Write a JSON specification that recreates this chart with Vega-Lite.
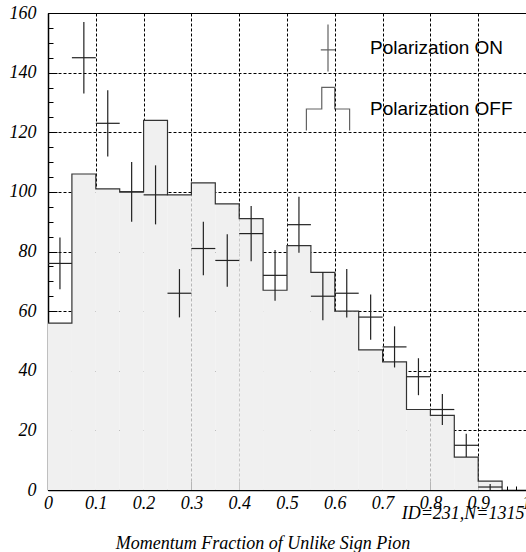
{
  "$schema": "https://vega.github.io/schema/vega-lite/v6.json",
  "width": 478,
  "height": 477,
  "autosize": {"type": "none"},
  "padding": {"left": 48, "top": 13, "right": 0, "bottom": 62},
  "background": "white",
  "config": {
    "view": {"stroke": "#000", "strokeWidth": 1},
    "axis": {
      "domainColor": "#000",
      "domainWidth": 1.5,
      "tickColor": "#000",
      "tickWidth": 1,
      "gridColor": "#000",
      "gridDash": [3, 2],
      "gridWidth": 1,
      "labelFont": "Liberation Serif",
      "labelFontStyle": "italic",
      "labelFontWeight": "normal",
      "labelFontSize": 18,
      "labelColor": "#000",
      "titleFont": "Liberation Serif",
      "titleFontStyle": "italic",
      "titleFontWeight": "normal",
      "titleFontSize": 18,
      "titleColor": "#000",
      "zindex": 1
    }
  },
  "title": {
    "text": "Momentum Fraction of Unlike Sign Pion",
    "orient": "bottom",
    "anchor": "middle",
    "frame": "group",
    "dx": -24,
    "offset": 13,
    "font": "Liberation Serif",
    "fontStyle": "italic",
    "fontWeight": "normal",
    "fontSize": 18,
    "color": "#000"
  },
  "data": {
    "values": [
      {"lo": 0.0, "hi": 0.05, "mid": 0.025, "off": 56, "on": 76, "on_lo": 67.3, "on_hi": 84.7},
      {"lo": 0.05, "hi": 0.1, "mid": 0.075, "off": 106, "on": 145, "on_lo": 133, "on_hi": 157},
      {"lo": 0.1, "hi": 0.15, "mid": 0.125, "off": 101, "on": 123, "on_lo": 111.9, "on_hi": 134.1},
      {"lo": 0.15, "hi": 0.2, "mid": 0.175, "off": 100, "on": 100, "on_lo": 90, "on_hi": 110},
      {"lo": 0.2, "hi": 0.25, "mid": 0.225, "off": 124, "on": 99, "on_lo": 89.1, "on_hi": 108.9},
      {"lo": 0.25, "hi": 0.3, "mid": 0.275, "off": 99, "on": 66, "on_lo": 57.9, "on_hi": 74.1},
      {"lo": 0.3, "hi": 0.35, "mid": 0.325, "off": 103, "on": 81, "on_lo": 72, "on_hi": 90},
      {"lo": 0.35, "hi": 0.4, "mid": 0.375, "off": 96, "on": 77, "on_lo": 68.2, "on_hi": 85.8},
      {"lo": 0.4, "hi": 0.45, "mid": 0.425, "off": 91, "on": 86, "on_lo": 76.7, "on_hi": 95.3},
      {"lo": 0.45, "hi": 0.5, "mid": 0.475, "off": 67, "on": 72, "on_lo": 63.5, "on_hi": 80.5},
      {"lo": 0.5, "hi": 0.55, "mid": 0.525, "off": 82, "on": 89, "on_lo": 79.6, "on_hi": 98.4},
      {"lo": 0.55, "hi": 0.6, "mid": 0.575, "off": 73, "on": 65, "on_lo": 56.9, "on_hi": 73.1},
      {"lo": 0.6, "hi": 0.65, "mid": 0.625, "off": 60, "on": 66, "on_lo": 57.9, "on_hi": 74.1},
      {"lo": 0.65, "hi": 0.7, "mid": 0.675, "off": 47, "on": 58, "on_lo": 50.4, "on_hi": 65.6},
      {"lo": 0.7, "hi": 0.75, "mid": 0.725, "off": 43, "on": 48, "on_lo": 41.1, "on_hi": 54.9},
      {"lo": 0.75, "hi": 0.8, "mid": 0.775, "off": 27, "on": 38, "on_lo": 31.8, "on_hi": 44.2},
      {"lo": 0.8, "hi": 0.85, "mid": 0.825, "off": 25, "on": 27, "on_lo": 21.8, "on_hi": 32.2},
      {"lo": 0.85, "hi": 0.9, "mid": 0.875, "off": 11, "on": 15, "on_lo": 11.1, "on_hi": 18.9},
      {"lo": 0.9, "hi": 0.95, "mid": 0.925, "off": 3, "on": 1, "on_lo": 0, "on_hi": 2},
      {"lo": 0.95, "hi": 1.0, "mid": 0.975, "off": 0, "on": null, "on_lo": null, "on_hi": null}
    ]
  },
  "layer": [
    {
      "mark": {"type": "bar", "fill": "#f0f0f0", "strokeWidth": 0},
      "encoding": {
        "x": {
          "field": "lo",
          "type": "quantitative",
          "scale": {"domain": [0, 1], "nice": false, "zero": false},
          "axis": {
            "values": [0, 0.02, 0.04, 0.06, 0.08, 0.1, 0.12, 0.14, 0.16, 0.18, 0.2, 0.22, 0.24, 0.26, 0.28, 0.3, 0.32, 0.34, 0.36, 0.38, 0.4, 0.42, 0.44, 0.46, 0.48, 0.5, 0.52, 0.54, 0.56, 0.58, 0.6, 0.62, 0.64, 0.66, 0.68, 0.7, 0.72, 0.74, 0.76, 0.78, 0.8, 0.82, 0.84, 0.86, 0.88, 0.9, 0.92, 0.94, 0.96, 0.98, 1],
            "tickCount": 200,
            "format": "~g",
            "labelExpr": "abs(datum.value*10 - round(datum.value*10)) < 0.001 ? datum.label : ''",
            "tickSize": {"condition": {"test": "abs(datum.value*10 - round(datum.value*10)) < 0.001", "value": -9}, "value": -4},
            "gridOpacity": {"condition": {"test": "abs(datum.value*10 - round(datum.value*10)) < 0.001", "value": 1}, "value": 0},
            "labelPadding": 13,
            "labelFlush": false,
            "labelOverlap": false,
            "labelBound": false,
            "title": "ID=231,N=1315",
            "titleX": 476,
            "titleY": 28,
            "titleAlign": "right",
            "titleBaseline": "alphabetic"
          }
        },
        "x2": {"field": "hi"},
        "y": {
          "field": "off",
          "type": "quantitative",
          "scale": {"domain": [0, 160], "nice": false},
          "axis": {
            "values": [0, 5, 10, 15, 20, 25, 30, 35, 40, 45, 50, 55, 60, 65, 70, 75, 80, 85, 90, 95, 100, 105, 110, 115, 120, 125, 130, 135, 140, 145, 150, 155, 160],
            "tickCount": 200,
            "format": "d",
            "labelExpr": "datum.value % 20 == 0 ? datum.label : ''",
            "tickSize": {"condition": {"test": "datum.value % 20 == 0", "value": -9}, "value": -5},
            "gridOpacity": {"condition": {"test": "datum.value % 20 == 0", "value": 1}, "value": 0},
            "labelPadding": 21,
            "labelFlush": false,
            "labelOverlap": false,
            "labelBound": false,
            "title": null
          }
        },
        "y2": {"datum": 0}
      }
    },
    {
      "mark": {"type": "line", "interpolate": "step-after", "stroke": "#333", "strokeWidth": 1.2},
      "encoding": {
        "x": {"field": "lo", "type": "quantitative"},
        "y": {"field": "off", "type": "quantitative"}
      }
    },
    {
      "transform": [{"filter": "datum.on != null"}],
      "mark": {"type": "rule", "stroke": "#222", "strokeWidth": 1.2},
      "encoding": {
        "x": {"field": "lo", "type": "quantitative"},
        "x2": {"field": "hi"},
        "y": {"field": "on", "type": "quantitative"}
      }
    },
    {
      "transform": [{"filter": "datum.on != null"}],
      "mark": {"type": "rule", "stroke": "#222", "strokeWidth": 1.2},
      "encoding": {
        "x": {"field": "mid", "type": "quantitative"},
        "y": {"field": "on_lo", "type": "quantitative"},
        "y2": {"field": "on_hi"}
      }
    },
    {
      "transform": [{"filter": "false"}],
      "mark": {"type": "point", "filled": false, "color": "#222", "strokeWidth": 1.2},
      "encoding": {
        "x": {"field": "mid", "type": "quantitative"},
        "y": {"field": "on", "type": "quantitative"},
        "shape": {
          "field": "series",
          "type": "nominal",
          "scale": {
            "domain": ["Polarization ON", "Polarization OFF"],
            "range": ["M0,-0.98V0.98M-0.3,0.08H0.3", "M-0.9,0.9V0H-0.26V-0.9H0.28V0H0.9V0.9"]
          },
          "legend": {
            "orient": "none",
            "legendX": 255,
            "legendY": 10,
            "title": null,
            "padding": 0,
            "symbolSize": 2304,
            "symbolStrokeWidth": 1.2,
            "symbolStrokeColor": "#222",
            "symbolFillColor": "transparent",
            "labelFont": "Liberation Sans",
            "labelFontSize": 19,
            "labelColor": "#000",
            "labelOffset": 17,
            "rowPadding": 10,
            "symbolOffset": 0
          }
        }
      }
    }
  ]
}
